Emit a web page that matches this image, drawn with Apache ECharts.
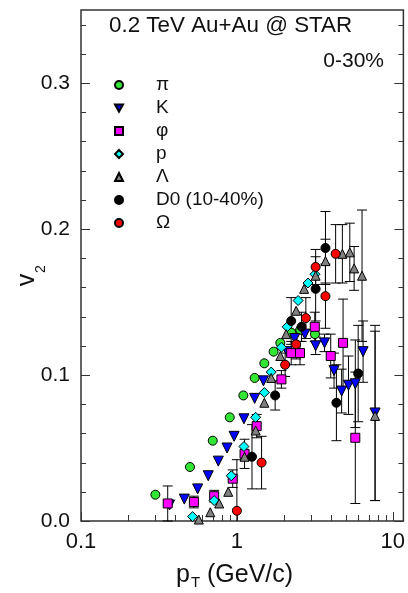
<!DOCTYPE html>
<html><head><meta charset="utf-8">
<script src="https://cdn.jsdelivr.net/npm/echarts@6/dist/echarts.min.js"></script>
<style>html,body{margin:0;padding:0;background:#fff}#c{width:408px;height:593px}</style>
</head><body><div id="c"></div><script>
const FONT = 'Liberation Sans';
const xTickLabels = [0.1, 1, 10];
const yTickLabels = [0.0, 0.1, 0.2, 0.3];
const xMinorTicks = [0.2,0.3,0.4,0.5,0.6,0.7,0.8,0.9,2,3,4,5,6,7,8,9];
const yMinorTicks = [0.02,0.04,0.06,0.08,0.12,0.14,0.16,0.18,0.22,0.24,0.26,0.28,0.32,0.34];
const names = ['π','K','φ','p','Λ','D0 (10-40%)','Ω'];

// [pT, v2, error]
const pion = [[0.30,0.018,0],[0.50,0.037,0],[0.70,0.055,0],[0.90,0.071,0],[1.10,0.086,0],[1.30,0.098,0],[1.50,0.108,0],[1.72,0.116,0],[1.90,0.122,0],[2.23,0.129,0],[2.55,0.131,0],[3.17,0.128,0]];
const kaon = [[0.37,0.011,0],[0.46,0.015,0],[0.56,0.022,0],[0.655,0.031,0],[0.76,0.041,0],[0.865,0.050,0],[0.96,0.058,0],[1.11,0.070,0],[1.30,0.084,0],[1.48,0.096,0],[2.10,0.116,0],[2.35,0.125,0],[2.73,0.128,0],[3.20,0.120,0.006],[3.65,0.122,0.006],[4.20,0.103,0.012],[4.70,0.089,0.015],[5.20,0.093,0.02],[5.75,0.094,0.03],[6.45,0.116,0.021],[7.70,0.074,0.06]];
const phi = [[0.36,0.012,0.012],[0.53,0.013,0.004],[0.715,0.017,0.004],[0.94,0.029,0.006],[1.12,0.046,0.01],[1.34,0.065,0.008],[1.93,0.097,0.006],[2.23,0.115,0.008],[2.54,0.115,0.008],[3.16,0.133,0.01],[4.0,0.113,0.015],[4.8,0.122,0.03],[5.75,0.057,0.045]];
const proton = [[0.52,0.003,0],[0.715,0.014,0],[0.92,0.031,0],[1.11,0.051,0],[1.32,0.071,0],[1.50,0.088,0],[1.66,0.102,0],[1.93,0.119,0],[2.10,0.133,0],[2.47,0.151,0],[2.86,0.163,0],[3.17,0.169,0]];
const lambda = [[0.57,0.001,0],[0.675,0.006,0],[0.77,0.012,0],[0.88,0.020,0],[1.12,0.044,0],[1.32,0.062,0],[1.50,0.081,0],[1.66,0.098,0],[1.90,0.113,0],[2.07,0.128,0],[2.40,0.144,0],[2.70,0.159,0],[3.20,0.168,0],[3.70,0.178,0.015],[4.75,0.183,0.02],[5.30,0.184,0.02],[5.65,0.173,0.015],[6.35,0.168,0.045],[7.70,0.072,0.058]];
const d0 = [[1.25,0.044,0.022],[1.76,0.086,0.01],[2.23,0.137,0.016],[2.60,0.133,0.01],[3.20,0.159,0.022],[3.70,0.187,0.025],[4.35,0.081,0.026],[6.00,0.101,0.033]];
const omega = [[1.00,0.007,0.035],[1.44,0.040,0.018],[2.04,0.107,0.008],[2.40,0.121,0.01],[2.77,0.139,0.014],[3.20,0.174,0.012],[3.70,0.154,0.022],[4.30,0.183,0.02]];

const X_MIN = 0.1, X_MAX = 11.7, Y_MIN = 0, Y_MAX = 0.35;

const styles = [
  {data: pion,   symbol:'circle',   size:9,  rotate:0,   color:'#33e633'},
  {data: kaon,   symbol:'triangle', size:10, rotate:180, color:'#0000ff'},
  {data: phi,    symbol:'rect',     size:9,  rotate:0,   color:'#ff00ff'},
  {data: proton, symbol:'diamond',  size:10, rotate:0,   color:'#00ffff'},
  {data: lambda, symbol:'triangle', size:9,  rotate:0,   color:'#808080'},
  {data: d0,     symbol:'circle',   size:9,  rotate:0,   color:'#000000'},
  {data: omega,  symbol:'circle',   size:9,  rotate:0,   color:'#ff0000'}
];

function errRender(params, api){
  const x = api.value(0), y = api.value(1), e = api.value(2);
  if (!e) return null;
  const hi = Math.min(y + e, Y_MAX), lo = Math.max(y - e, Y_MIN);
  const t = api.coord([x, hi]), b = api.coord([x, lo]);
  const st = {stroke:'#000', lineWidth:1};
  const cw = 5;
  const ch = [{type:'line', shape:{x1:t[0],y1:t[1],x2:b[0],y2:b[1]}, style:st}];
  if (y + e <= Y_MAX) ch.push({type:'line', shape:{x1:t[0]-cw,y1:t[1],x2:t[0]+cw,y2:t[1]}, style:st});
  if (y - e >= Y_MIN) ch.push({type:'line', shape:{x1:b[0]-cw,y1:b[1],x2:b[0]+cw,y2:b[1]}, style:st});
  return {type:'group', children: ch};
}

const tickData = [];
yTickLabels.forEach(v => tickData.push([X_MIN, v, 0]));
yMinorTicks.forEach(v => tickData.push([X_MIN, v, 1]));
xTickLabels.forEach(v => tickData.push([v, Y_MIN, 2]));
xMinorTicks.forEach(v => tickData.push([v, Y_MIN, 3]));

function tickRender(params, api){
  const cs = params.coordSys;
  const k = api.value(2);
  const p = api.coord([api.value(0), api.value(1)]);
  const st = {stroke:'#333', lineWidth:1};
  if (k < 2) {
    const L = k === 0 ? 9 : 5;
    const yy = Math.round(p[1]) + 0.5;
    return {type:'group', children:[
      {type:'line', shape:{x1:cs.x, y1:yy, x2:cs.x+L, y2:yy}, style:st},
      {type:'line', shape:{x1:cs.x+cs.width-L, y1:yy, x2:cs.x+cs.width, y2:yy}, style:st}
    ]};
  }
  const L = k === 2 ? 9 : 6;
  const xx = Math.round(p[0]) + 0.5;
  return {type:'line', shape:{x1:xx, y1:cs.y+cs.height, x2:xx, y2:cs.y+cs.height-L}, style:st};
}

const series = [{
  name:'ticks', type:'custom', renderItem: tickRender, data: tickData,
  dimensions:['x','y','k'], encode:{x:0, y:1}, silent:true, z:1
}];
styles.forEach((s, i) => {
  series.push({
    name:'err' + i, type:'custom', renderItem: errRender, data: s.data,
    dimensions:['x','y','e'], encode:{x:0, y:1}, silent:true, z:2
  });
});
styles.forEach((s, i) => {
  series.push({
    name: names[i], type:'scatter', data: s.data.map(d => [d[0], d[1]]),
    symbol: s.symbol, symbolSize: s.size, symbolRotate: s.rotate,
    itemStyle: {color: s.color, borderColor:'#000', borderWidth:1, opacity:1},
    z: 3 + i
  });
});

const legendData = names.map((n, i) => {
  if (styles[i].rotate === 180) return {name:n, icon:'path://M0,0L10,0L5,9Z'};
  return {name:n};
});

function near(v, arr){ return arr.find(t => Math.abs(v - t) < 1e-6 * Math.max(1, Math.abs(t)) + 1e-9); }

const chart = echarts.init(document.getElementById('c'));
chart.setOption({
  animation:false,
  backgroundColor:'#fff',
  grid:{left:81, right:1, top:10, bottom:72, show:true, borderColor:'#333', borderWidth:1.5, containLabel:false},
  xAxis:{type:'log', logBase:10, min:X_MIN, max:X_MAX,
    axisLine:{show:false}, axisTick:{show:false}, splitLine:{show:false}, minorTick:{show:false},
    axisLabel:{fontFamily:FONT, fontSize:22, color:'#111', margin:10, showMaxLabel:false,
      formatter: v => { const t = near(v, xTickLabels); return t === undefined ? '' : String(t); }}},
  yAxis:{type:'value', min:Y_MIN, max:Y_MAX, interval:0.1,
    axisLine:{show:false}, axisTick:{show:false}, splitLine:{show:false},
    axisLabel:{fontFamily:FONT, fontSize:21, color:'#111', margin:11,
      formatter: v => { const t = near(v, yTickLabels); return t === undefined ? '' : t.toFixed(1); }}},
  legend:{orient:'vertical', left:109, top:70.5, itemWidth:8, itemHeight:8, itemGap:4,
    data:legendData, selectedMode:false,
    textStyle:{fontFamily:FONT, fontSize:19, color:'#111', lineHeight:19, padding:[0,0,0,28]}},
  graphic:[
    {type:'text', x:109, y:26, style:{text:'0.2 TeV Au+Au @ STAR', font:'22.4px "Liberation Sans"', fill:'#111', verticalAlign:'middle', align:'left'}},
    {type:'text', x:384, y:61, style:{text:'0-30%', font:'21px "Liberation Sans"', fill:'#111', verticalAlign:'middle', align:'right'}},
    {type:'text', x:27, y:280, rotation:Math.PI/2, style:{text:'v', font:'25px "Liberation Sans"', fill:'#111', verticalAlign:'middle', align:'center'}},
    {type:'text', x:41, y:269, rotation:Math.PI/2, style:{text:'2', font:'14px "Liberation Sans"', fill:'#111', verticalAlign:'middle', align:'center'}},
    {type:'text', x:176, y:575, style:{text:'p', font:'25px "Liberation Sans"', fill:'#111', verticalAlign:'middle', align:'left'}},
    {type:'text', x:191, y:583, style:{text:'T', font:'15px "Liberation Sans"', fill:'#111', verticalAlign:'middle', align:'left'}},
    {type:'text', x:207, y:575, style:{text:'(GeV/c)', font:'25px "Liberation Sans"', fill:'#111', verticalAlign:'middle', align:'left'}}
  ],
  series: series
});
</script></body></html>
